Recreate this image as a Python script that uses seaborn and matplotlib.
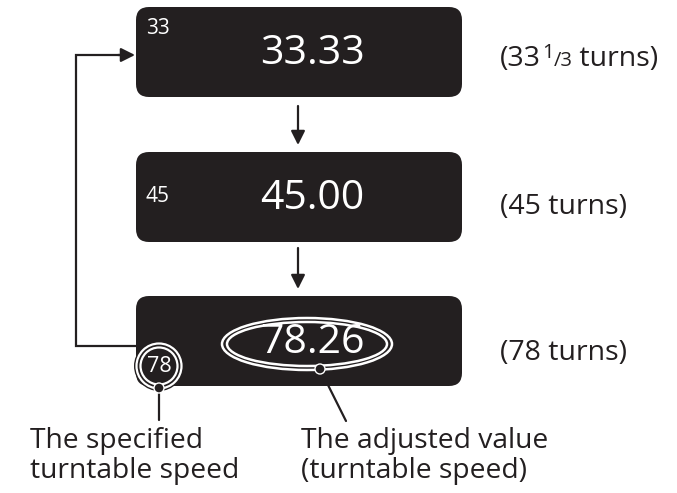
import matplotlib
matplotlib.use("Agg")
from matplotlib import pyplot as plt
from matplotlib import patches
import seaborn as sns

# Diagram content
speed_keys = ["33", "45", "78"]
display_values = ["33.33", "45.00", "78.26"]
turn_labels = ["(33", "(45 turns)", "(78 turns)"]
caption_left = ["The specified", "turntable speed"]
caption_right = ["The adjusted value", "(turntable speed)"]

dark = "#231f20"

sns.set_theme(style="white")
plt.rcParams["font.family"] = ["Open Sans", "DejaVu Sans"]

fig = plt.figure(figsize=(6.77, 4.93), dpi=100)
ax = fig.add_axes([0, 0, 1, 1])
ax.set_xlim(0, 677)
ax.set_ylim(493, 0)
ax.axis("off")

# Box geometry (pixel-like units)
box_x, box_w, box_h = 136, 326, 90
box_tops = [7, 152, 296]
label_y = [55, 207, 353]

for top, key, val in zip(box_tops, speed_keys, display_values):
    ax.add_patch(patches.FancyBboxPatch((box_x, top), box_w, box_h,
                                        boxstyle="round,pad=0,rounding_size=13",
                                        fc=dark, ec="none", zorder=1))
    mid = top + box_h / 2
    if key != "78":
        ax.text(box_x + 10, top + 21 if key == "33" else mid, key, color="white",
                fontsize=15, ha="left", va="center", zorder=3)
    ax.text(312, mid + 2, val, color="white", fontsize=29.5,
            ha="center", va="center", zorder=4)

# Right-hand turn labels
fig.canvas.draw()
renderer = fig.canvas.get_renderer()
inv = ax.transData.inverted()

def place(x, y, s, size, va="baseline"):
    t = ax.text(x, y, s, color=dark, fontsize=size, ha="left", va=va)
    bb = t.get_window_extent(renderer)
    return inv.transform((bb.x1, bb.y1))[0]

base0 = label_y[0] + 11
x = place(500, base0, turn_labels[0], 20.5)
x = place(x + 1, base0 - 8, "1", 14.5)
x = place(x, base0, "/3", 14.5)
place(x, base0, " turns)", 20.5)
for y, lab in zip(label_y[1:], turn_labels[1:]):
    ax.text(500, y, lab, color=dark, fontsize=20.5, ha="left", va="center")

# Down arrows between boxes
for y0, y1 in [(106, 145), (248, 289)]:
    ax.annotate("", xy=(298, y1), xytext=(298, y0),
                arrowprops=dict(arrowstyle="-|>,head_length=0.7,head_width=0.35",
                                color=dark, lw=1.6, shrinkA=0, shrinkB=0))

# Feedback loop from box 3 back to box 1
ax.plot([137, 76, 76, 122], [346, 346, 55, 55], color=dark, lw=1.6,
        solid_joinstyle="miter", zorder=2)
ax.annotate("", xy=(135, 55), xytext=(118, 55),
            arrowprops=dict(arrowstyle="-|>,head_length=0.7,head_width=0.35",
                            color=dark, lw=1.6, shrinkA=0, shrinkB=0))

# Circled "78"
cx, cy = 159, 366
ax.add_patch(patches.Circle((cx, cy), 25, fc=dark, ec="none", zorder=5))
ax.add_patch(patches.Circle((cx, cy), 22.5, fc="none", ec="white", lw=1.6, zorder=6))
ax.add_patch(patches.Circle((cx, cy), 18.5, fc="none", ec="white", lw=1.6, zorder=6))
ax.text(cx, cy + 1, speed_keys[2], color="white", fontsize=15.5,
        ha="center", va="center", zorder=7)
ax.plot([cx, cx], [cy + 22, 420], color=dark, lw=1.6, zorder=4)
ax.add_patch(patches.Circle((cx, cy + 22), 5, fc=dark, ec="white", lw=1, zorder=8))

# Ellipse around 78.26
ex, ey = 307, 344
ax.add_patch(patches.Ellipse((ex, ey), 170, 52, fc="none", ec="white", lw=1.8, zorder=5))
ax.add_patch(patches.Ellipse((ex, ey), 160, 44, fc="none", ec="white", lw=1.8, zorder=5))
ax.plot([320, 346], [369, 421], color=dark, lw=1.6, zorder=4)
ax.add_patch(patches.Circle((320, 369), 5, fc=dark, ec="white", lw=1, zorder=8))

# Captions
for i, s in enumerate(caption_left):
    ax.text(30, 441 + 30 * i, s, color=dark, fontsize=20.3, ha="left", va="center")
for i, s in enumerate(caption_right):
    ax.text(301, 441 + 30 * i, s, color=dark, fontsize=20.3, ha="left", va="center")

fig.savefig("out.png", dpi=100)
